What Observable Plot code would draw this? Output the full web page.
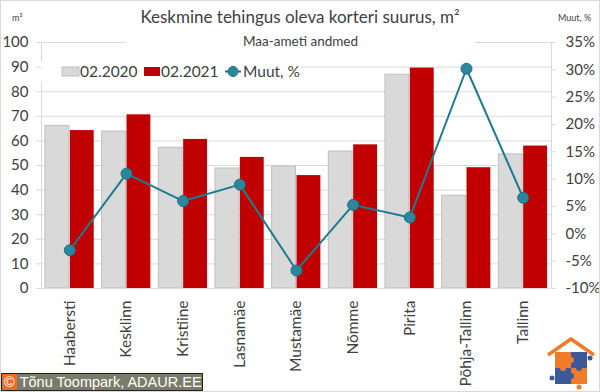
<!DOCTYPE html>
<html><head><meta charset="utf-8">
<script src="https://cdn.jsdelivr.net/npm/d3@7"></script>
<script src="https://cdn.jsdelivr.net/npm/@observablehq/plot@0.6"></script>
<style>
body{margin:0;background:#fff;}
#wrap{position:relative;width:600px;height:392px;overflow:hidden;font-family:Lato,sans-serif;color:#404040;}
#wrap svg.plot{position:absolute;left:0;top:0;}
.ov{position:absolute;white-space:nowrap;}
</style></head><body><div id="wrap"></div>
<script>
const districts = ["Haabersti","Kesklinn","Kristiine","Lasnamäe","Mustamäe","Nõmme","Pirita","Põhja-Tallinn","Tallinn"];
const size2020 = [66.1, 63.8, 57.2, 48.8, 49.6, 55.7, 86.9, 37.7, 54.5];
const size2021 = [64.2, 70.6, 60.6, 53.3, 45.9, 58.4, 89.6, 49.1, 57.9];
const changePct = [-3.0, 11.0, 6.0, 9.0, -6.7, 5.3, 3.0, 30.2, 6.6];
const leftTicks = d3.range(0, 101, 10);
const rightTicks = d3.range(-10, 36, 5);
const seriesNames = ["02.2020", "02.2021", "Muut, %"];
const colors = ["#d9d9d9", "#c00000", "#1e7b8e"];

const pctToY = p => (p + 10) * 100 / 45;
const yToPct = v => Math.round(v * 0.45 - 10);
const rightFmt = v => yToPct(v) + "%";
const rows = districts.map((d, i) => ({i, d, a: size2020[i], b: size2021[i], c: changePct[i]}));
const half = 0.43;

const chart = Plot.plot({
  width: 600, height: 392,
  marginLeft: 41, marginRight: 49, marginTop: 42, marginBottom: 104,
  x: {domain: [-0.5, 8.5]},
  y: {domain: [0, 100]},
  style: {fontFamily: "Lato, sans-serif", fontSize: "15px", color: "#404040", background: "transparent"},
  marks: [
    Plot.gridY(leftTicks.filter(v => v > 0), {stroke: "#d9d9d9", strokeOpacity: 1}),
    Plot.rectY(rows, {x1: d => d.i - half, x2: d => d.i, y: "a", fill: colors[0], stroke: "#bfbfbf", insetRight: 0.5}),
    Plot.rectY(rows, {x1: d => d.i, x2: d => d.i + half, y: "b", fill: colors[1], insetLeft: 0.5}),
    Plot.ruleY([0], {stroke: "#d9d9d9"}),
    Plot.ruleX([-0.5, 8.5], {stroke: "#d9d9d9"}),
    Plot.axisY({ticks: leftTicks, tickSize: 5, tickPadding: 8, stroke: "#d9d9d9", fill: "#404040", label: null, fontSize: 15}),
    Plot.axisY({anchor: "right", ticks: rightTicks.map(pctToY), tickFormat: rightFmt, tickSize: 4, tickPadding: 10, stroke: "#d9d9d9", fill: "#404040", label: null, fontSize: 15}),
    Plot.axisX({ticks: d3.range(districts.length), tickFormat: i => districts[i], tickRotate: -90, tickSize: 0, tickPadding: 12, fill: "#404040", label: null, fontSize: 15.5}),
    Plot.line(rows, {x: "i", y: d => pctToY(d.c), stroke: colors[2], strokeWidth: 2}),
    Plot.dot(rows, {x: "i", y: d => pctToY(d.c), r: 5.5, fill: "#2b879b", stroke: "#1f6e80", strokeWidth: 1})
  ]
});
const wrap = document.getElementById("wrap");
wrap.appendChild(chart);

function ov(html, style) {
  const d = document.createElement("div");
  d.className = "ov";
  d.innerHTML = html;
  Object.assign(d.style, style);
  wrap.appendChild(d);
  return d;
}
ov("Keskmine tehingus oleva korteri suurus, m²", {left: "0", width: "600px", top: "6px", textAlign: "center", fontSize: "17px", color: "#404040"});
ov("Maa-ameti andmed", {left: "126px", width: "349px", top: "33px", height: "17px", lineHeight: "17px", textAlign: "center", fontSize: "13.5px", background: "#fff", color: "#404040"});
ov("m²", {left: "12px", top: "12px", fontSize: "9px", color: "#404040"});
ov("Muut, %", {left: "558px", top: "12px", fontSize: "9px", color: "#404040"});

// legend
const lg = `<svg width="260" height="20" style="display:block">
<rect x="0" y="0" width="260" height="20" fill="#fff"/>
<rect x="21" y="6" width="17" height="9" fill="${colors[0]}" stroke="#bfbfbf"/>
<text x="39" y="16" font-size="15.5" fill="#404040">${seriesNames[0]}</text>
<rect x="103" y="6" width="16" height="9" fill="${colors[1]}"/>
<text x="120" y="16" font-size="15.5" fill="#404040">${seriesNames[1]}</text>
<line x1="184" x2="200" y1="10.5" y2="10.5" stroke="${colors[2]}" stroke-width="2"/>
<circle cx="192" cy="10.5" r="5" fill="#2b879b" stroke="#1f6e80"/>
<text x="202" y="16" font-size="15.5" fill="#404040">${seriesNames[2]}</text>
</svg>`;
ov(lg, {left: "41px", top: "61px"});

// copyright
ov(`<div style="display:flex;align-items:center;height:16px;background:#7b7b69;border:1px solid #222;color:#fff;font-family:'Liberation Sans',sans-serif;font-size:14.5px;line-height:16px;">
<span style="background:#f26a24;padding:0 2px;margin-right:3px;">©</span><span>Tõnu Toompark, ADAUR.EE</span></div>`, {left: "1px", top: "373px"});

// logo
ov(`<svg width="52" height="56">
<polyline points="2,19 25,3 48,19" fill="none" stroke="#f07c2a" stroke-width="3.5"/>
<rect x="9" y="16" width="16" height="16" fill="#f07c2a"/>
<rect x="25" y="16" width="16" height="16" fill="#3c5a9a"/>
<rect x="9" y="32" width="16" height="16" fill="#3c5a9a"/>
<rect x="25" y="32" width="16" height="16" fill="#f07c2a"/>
<circle cx="25" cy="24" r="3" fill="#f07c2a"/><circle cx="33" cy="32" r="3" fill="#3c5a9a"/>
<circle cx="17" cy="32" r="3" fill="#f07c2a"/><circle cx="25" cy="40" r="3" fill="#3c5a9a"/>
<circle cx="44" cy="22" r="2.5" fill="#3c5a9a"/><circle cx="6" cy="42" r="2.5" fill="#3c5a9a"/>
<circle cx="33" cy="51" r="2.5" fill="#f07c2a"/>
</svg>`, {left: "546px", top: "336px"});

// border
ov("", {left: "0", top: "0", width: "598px", height: "390px", border: "1px solid #d9d9d9"});
</script>
</body></html>
